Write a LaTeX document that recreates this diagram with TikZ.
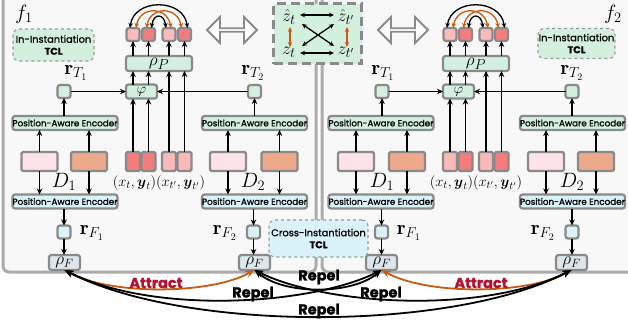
\documentclass[tikz,border=0pt]{standalone}
\usepackage{amsmath}
\usepackage{fontspec}
\setsansfont{Poppins}
\newfontfamily\medsf[RawFeature={embolden=1.2}]{Poppins}
\usetikzlibrary{arrows.meta,shapes.arrows}
\definecolor{boxgray}{HTML}{8A8A8A}
\definecolor{panelbg}{HTML}{F8F8F8}
\definecolor{panelbd}{HTML}{ABABAB}
\definecolor{dashgray}{HTML}{9A9A9A}
\definecolor{mint}{HTML}{D3F0DF}
\definecolor{sky}{HTML}{DAF2FA}
\definecolor{rhofill}{HTML}{DCE6EC}
\definecolor{redsq}{HTML}{F57C7C}
\definecolor{pinksq}{HTML}{FBB9BB}
\definecolor{lpink}{HTML}{FDE2E7}
\definecolor{salmon}{HTML}{EDA98B}
\definecolor{orng}{HTML}{C65B12}
\definecolor{crim}{HTML}{B3132F}
\begin{document}
\begin{tikzpicture}[x=1pt,y=-1pt,
  bx/.style={draw=boxgray, line width=2.2pt, rounded corners=2.5pt, inner sep=0pt, outer sep=0pt},
  pae/.style={bx, minimum width=104, minimum height=14, font=\fontsize{8.8}{9}\selectfont\medsf},
  rectbox/.style={bx, rounded corners=1.5pt, minimum width=36, minimum height=19},
  sqbox/.style={bx, minimum size=13},
  xybox/.style={bx, rounded corners=1.5pt, minimum width=14, minimum height=19},
  rhobox/.style={bx, fill=rhofill, minimum width=31, minimum height=15, font=\fontsize{17}{17}\selectfont},
  lab/.style={inner sep=0pt, font=\fontsize{20}{20}\selectfont},
  ar/.style={-{Stealth[length=6pt,width=5.5pt]}, line width=1.4pt},
  dar/.style={{Stealth[length=5pt,width=4.5pt]}-{Stealth[length=5pt,width=4.5pt]}, line width=1.3pt},
  bigar/.style={{Stealth[length=9pt,width=7pt]}-{Stealth[length=9pt,width=7pt]}, line width=1.8pt},
  tcl/.style={draw=dashgray, dashed, line width=1.1pt, rounded corners=6pt, align=center, font=\fontsize{9.8}{12}\selectfont\medsf, inner sep=0pt},
  hollow/.style={double arrow, draw=boxgray, line width=1.8pt, fill=white, minimum width=26, minimum height=50, double arrow head extend=6pt, inner sep=0pt},
  panel/.style={draw=panelbd, line width=3pt, fill=panelbg, rounded corners=6pt},
  rlab/.style={font=\fontsize{14.5}{14.5}\selectfont\medsf\bfseries, inner sep=0pt}
]
\useasboundingbox (0,0) rectangle (628,325);
\clip (0,0) rectangle (628,325);
\fill[white] (0,0) rectangle (628,325);
% panels
\draw[panel] (3,-12) rectangle (316,272);
\draw[panel] (322,-12) rectangle (640,272);

% ================= LEFT PANEL =================
\node[lab, font=\fontsize{21}{21}\selectfont] (Lf) at (24,14) {$f_1$};
\node[tcl, fill=mint, minimum width=81, minimum height=32] (LIn) at (53.5,45) {In-Instantiation\\\textbf{TCL}};
% column 1
\node[pae, fill=mint] (LpT1) at (65,123) {Position-Aware Encoder};
\node[pae, fill=sky] (LpB1) at (65,201.5) {Position-Aware Encoder};
\node[rectbox, fill=lpink] (La1) at (39.5,161.5) {};
\node[rectbox, fill=salmon] (Lb1) at (89,161.5) {};
\node[lab] (LD1) at (64,182) {$D_1$};
\node[sqbox, fill=mint] (LrT1) at (64,91.5) {};
\node[lab] (LrT1l) at (76,73) {$\mathbf r_{T_1}$};
\node[sqbox, fill=sky] (LrF1) at (64,232) {};
\node[lab] (LrF1l) at (92,233) {$\mathbf r_{F_1}$};
\node[rhobox] (LhF1) at (64.5,262.5) {$\rho_F$};
% column 2
\node[pae, fill=mint] (LpT2) at (254.5,123) {Position-Aware Encoder};
\node[pae, fill=sky] (LpB2) at (254.5,201.5) {Position-Aware Encoder};
\node[rectbox, fill=lpink] (La2) at (228,161.5) {};
\node[rectbox, fill=salmon] (Lb2) at (279.5,161.5) {};
\node[lab] (LD2) at (253,182) {$D_2$};
\node[sqbox, fill=mint] (LrT2) at (254.5,91.5) {};
\node[lab] (LrT2l) at (253,73) {$\mathbf r_{T_2}$};
\node[sqbox, fill=sky] (LrF2) at (253.5,232) {};
\node[lab] (LrF2l) at (225,233) {$\mathbf r_{F_2}$};
\node[rhobox] (LhF2) at (254.5,262.5) {$\rho_F$};
% middle
\node[bx, fill=mint, minimum width=31, minimum height=14, font=\fontsize{15}{15}\selectfont] (Lphi) at (141.5,91.5) {$\varphi$};
\node[bx, fill=mint, minimum width=66, minimum height=15, font=\fontsize{19}{19}\selectfont] (LrhoP) at (159,63.5) {$\rho_P$};
\node[sqbox, fill=pinksq] (Ls1) at (133,34.5) {};
\node[sqbox, fill=redsq] (Ls2) at (148.5,34.5) {};
\node[sqbox, fill=pinksq] (Ls3) at (169,34.5) {};
\node[sqbox, fill=redsq] (Ls4) at (184.5,34.5) {};
\node[xybox, fill=redsq] (Lq1) at (133,161.5) {};
\node[xybox, fill=redsq] (Lq2) at (148.5,161.5) {};
\node[xybox, fill=pinksq] (Lq3) at (169,161.5) {};
\node[xybox, fill=pinksq] (Lq4) at (184.5,161.5) {};
\node[lab, font=\fontsize{15}{15}\selectfont] (Lxy) at (159,183) {$(x_t,\boldsymbol{y}_t)(x_{t'},\boldsymbol{y}_{t'})$};

% connectors left
\foreach \c in {a1,b1,a2,b2}{
  \draw[ar] (L\c.north) -- (L\c.north |- LpT1.south);
}
\draw[ar] (La1.south) -- (La1.south |- LpB1.north);
\draw[ar] (Lb1.south) -- (Lb1.south |- LpB1.north);
\draw[ar] (La2.south) -- (La2.south |- LpB2.north);
\draw[ar] (Lb2.south) -- (Lb2.south |- LpB2.north);
\draw[ar] (LrT1.south |- LpT1.north) -- (LrT1.south);
\draw[ar] (LrT2.south |- LpT2.north) -- (LrT2.south);
\draw[ar] (LrF1.north |- LpB1.south) -- (LrF1.north);
\draw[ar] (LrF2.north |- LpB2.south) -- (LrF2.north);
\draw[ar] (LrF1.south) -- (LhF1.north -| LrF1.south);
\draw[ar] (LrF2.south) -- (LhF2.north -| LrF2.south);
\draw[ar] (LrT1.east) -- (Lphi.west);
\draw[ar] (LrT2.west) -- (Lphi.east);
\draw[ar] (Lq1.north) -- (Lq1.north |- Lphi.south);
\draw[ar] (Lq2.north) -- (Lq2.north |- Lphi.south);
\draw[ar] (Lq3.north) -- (Lq3.north |- LrhoP.south);
\draw[ar] (Lq4.north) -- (Lq4.north |- LrhoP.south);
\draw[ar] (Lq1.north |- Lphi.north) -- (Lq1.north |- LrhoP.south);
\draw[ar] (Lq2.north |- Lphi.north) -- (Lq2.north |- LrhoP.south);
\foreach \s in {1,2,3,4}{
  \draw[ar] (Ls\s.south |- LrhoP.north) -- (Ls\s.south);
}
% arcs on top
\draw[dar] ([xshift=-3pt]Ls1.north) .. controls +(4,-30) and +(-4,-30) .. ([xshift=3pt]Ls4.north);
\draw[dar, orng] ([xshift=3pt]Ls1.north) .. controls +(4,-22) and +(-4,-22) .. ([xshift=2pt]Ls3.north);
\draw[dar, orng] ([xshift=-2pt]Ls2.north) .. controls +(4,-22) and +(-4,-22) .. ([xshift=-3pt]Ls4.north);
\draw[dar] ([xshift=3pt]Ls2.north) .. controls +(2,-15) and +(-2,-15) .. ([xshift=-3pt]Ls3.north);

% ================= RIGHT PANEL =================
\node[lab, font=\fontsize{21}{21}\selectfont] (Rf) at (613,14) {$f_2$};
\node[tcl, fill=mint, minimum width=77, minimum height=30] (RIn) at (576.5,43.5) {In-Instantiation\\\textbf{TCL}};
% column 1
\node[pae, fill=mint] (RpT1) at (381,123) {Position-Aware Encoder};
\node[pae, fill=sky] (RpB1) at (381,201.5) {Position-Aware Encoder};
\node[rectbox, fill=lpink] (Ra1) at (356,161.5) {};
\node[rectbox, fill=salmon] (Rb1) at (407,161.5) {};
\node[lab] (RD1) at (382,182) {$D_1$};
\node[sqbox, fill=mint] (RrT1) at (382,91.5) {};
\node[lab] (RrT1l) at (383,73) {$\mathbf r_{T_1}$};
\node[sqbox, fill=sky] (RrF1) at (381.5,232) {};
\node[lab] (RrF1l) at (409,233) {$\mathbf r_{F_1}$};
\node[rhobox] (RhF1) at (381.5,262.5) {$\rho_F$};
% column 2
\node[pae, fill=mint] (RpT2) at (572.5,123) {Position-Aware Encoder};
\node[pae, fill=sky] (RpB2) at (572.5,201.5) {Position-Aware Encoder};
\node[rectbox, fill=lpink] (Ra2) at (546,161.5) {};
\node[rectbox, fill=salmon] (Rb2) at (596,161.5) {};
\node[lab] (RD2) at (572,182) {$D_2$};
\node[sqbox, fill=mint] (RrT2) at (572,91.5) {};
\node[lab] (RrT2l) at (572,73) {$\mathbf r_{T_2}$};
\node[sqbox, fill=sky] (RrF2) at (572,232) {};
\node[lab] (RrF2l) at (543,233) {$\mathbf r_{F_2}$};
\node[rhobox] (RhF2) at (571.5,262.5) {$\rho_F$};
% middle
\node[bx, fill=mint, minimum width=31, minimum height=14, font=\fontsize{15}{15}\selectfont] (Rphi) at (458.5,91.5) {$\varphi$};
\node[bx, fill=mint, minimum width=66, minimum height=15, font=\fontsize{19}{19}\selectfont] (RrhoP) at (476,63.5) {$\rho_P$};
\node[sqbox, fill=pinksq] (Rs1) at (450,34.5) {};
\node[sqbox, fill=redsq] (Rs2) at (465.5,34.5) {};
\node[sqbox, fill=pinksq] (Rs3) at (486,34.5) {};
\node[sqbox, fill=redsq] (Rs4) at (501.5,34.5) {};
\node[xybox, fill=pinksq] (Rq1) at (450,161.5) {};
\node[xybox, fill=redsq] (Rq2) at (465.5,161.5) {};
\node[xybox, fill=pinksq] (Rq3) at (486,161.5) {};
\node[xybox, fill=redsq] (Rq4) at (501.5,161.5) {};
\node[lab, font=\fontsize{15}{15}\selectfont] (Rxy) at (476,183) {$(x_t,\boldsymbol{y}_t)(x_{t'},\boldsymbol{y}_{t'})$};

% connectors right
\foreach \c in {a1,b1}{
  \draw[ar] (R\c.north) -- (R\c.north |- RpT1.south);
  \draw[ar] (R\c.south) -- (R\c.south |- RpB1.north);
}
\foreach \c in {a2,b2}{
  \draw[ar] (R\c.north) -- (R\c.north |- RpT2.south);
  \draw[ar] (R\c.south) -- (R\c.south |- RpB2.north);
}
\draw[ar] (RrT1.south |- RpT1.north) -- (RrT1.south);
\draw[ar] (RrT2.south |- RpT2.north) -- (RrT2.south);
\draw[ar] (RrF1.north |- RpB1.south) -- (RrF1.north);
\draw[ar] (RrF2.north |- RpB2.south) -- (RrF2.north);
\draw[ar] (RrF1.south) -- (RhF1.north -| RrF1.south);
\draw[ar] (RrF2.south) -- (RhF2.north -| RrF2.south);
\draw[ar] (RrT1.east) -- (Rphi.west);
\draw[ar] (RrT2.west) -- (Rphi.east);
\draw[ar] (Rq1.north) -- (Rq1.north |- Rphi.south);
\draw[ar] (Rq2.north) -- (Rq2.north |- Rphi.south);
\draw[ar] (Rq3.north) -- (Rq3.north |- RrhoP.south);
\draw[ar] (Rq4.north) -- (Rq4.north |- RrhoP.south);
\draw[ar] (Rq1.north |- Rphi.north) -- (Rq1.north |- RrhoP.south);
\draw[ar] (Rq2.north |- Rphi.north) -- (Rq2.north |- RrhoP.south);
\foreach \s in {1,2,3,4}{
  \draw[ar] (Rs\s.south |- RrhoP.north) -- (Rs\s.south);
}
\draw[dar] ([xshift=-3pt]Rs1.north) .. controls +(4,-30) and +(-4,-30) .. ([xshift=3pt]Rs4.north);
\draw[dar, orng] ([xshift=3pt]Rs1.north) .. controls +(4,-22) and +(-4,-22) .. ([xshift=2pt]Rs3.north);
\draw[dar, orng] ([xshift=-2pt]Rs2.north) .. controls +(4,-22) and +(-4,-22) .. ([xshift=-3pt]Rs4.north);
\draw[dar] ([xshift=3pt]Rs2.north) .. controls +(2,-15) and +(-2,-15) .. ([xshift=-3pt]Rs3.north);

% ================= CENTER =================
\node[hollow] (LdA) at (232,30) {};
\node[hollow] (RdA) at (403,30) {};
\node[draw=boxgray, line width=3pt, dash pattern=on 9pt off 5pt, fill=mint, minimum width=88, minimum height=60, inner sep=0pt] (Zbox) at (317.5,33.5) {};
\node[lab, font=\fontsize{19}{19}\selectfont] (zh1) at (289,17) {$\hat z_t$};
\node[lab, font=\fontsize{19}{19}\selectfont] (zh2) at (346,17) {$\hat z_{t'}$};
\node[lab, font=\fontsize{19}{19}\selectfont] (z1) at (289,52) {$z_t$};
\node[lab, font=\fontsize{19}{19}\selectfont] (z2) at (346,52) {$z_{t'}$};
\coordinate (hA) at (300,15);
\coordinate (hB) at (334,15);
\coordinate (hC) at (300,53);
\coordinate (hD) at (334,53);
\coordinate (dA) at (302,24);
\coordinate (dB) at (334,24);
\coordinate (dC) at (302,46);
\coordinate (dD) at (334,46);
\coordinate (vA) at (290,27);
\coordinate (vB) at (290,47);
\coordinate (vC) at (347,27);
\coordinate (vD) at (347,47);
\draw[dar] (hA) -- (hB);
\draw[dar] (hC) -- (hD);
\draw[dar] (dA) -- (dD);
\draw[dar] (dB) -- (dC);
\draw[dar, orng] (vA) -- (vB);
\draw[dar, orng] (vC) -- (vD);

\node[tcl, fill=sky, minimum width=99, minimum height=37] (Cross) at (318.5,238.5) {Cross-Instantiation\\\textbf{TCL}};

% ================= BOTTOM ARROWS =================
\draw[bigar, orng] (LhF1.south) .. controls +(45,25) and +(-45,25) .. (LhF2.south);
\draw[bigar, orng] (RhF1.south) .. controls +(45,25) and +(-45,25) .. (RhF2.south);
\node[rlab, text=crim] (AttL) at (156,283) {Attract};
\node[rlab, text=crim] (AttR) at (481,283) {Attract};
\draw[bigar] (LhF1.south) .. controls +(90,45) and +(-70,35) .. (RhF1.south);
\draw[bigar] (LhF2.south) .. controls +(70,35) and +(-90,45) .. (RhF2.south);
\draw[bigar] (LhF1.south) .. controls +(120,62) and +(-120,62) .. (RhF2.south);
\draw[bigar] (LhF2.south) .. controls +(30,25) and +(-30,25) .. (RhF1.south);
\node[rlab] (Rep1) at (319,277) {Repel};
\node[rlab] (Rep2) at (253,294) {Repel};
\node[rlab] (Rep3) at (381,294) {Repel};
\node[rlab] (Rep4) at (319,311) {Repel};
\end{tikzpicture}
\end{document}
